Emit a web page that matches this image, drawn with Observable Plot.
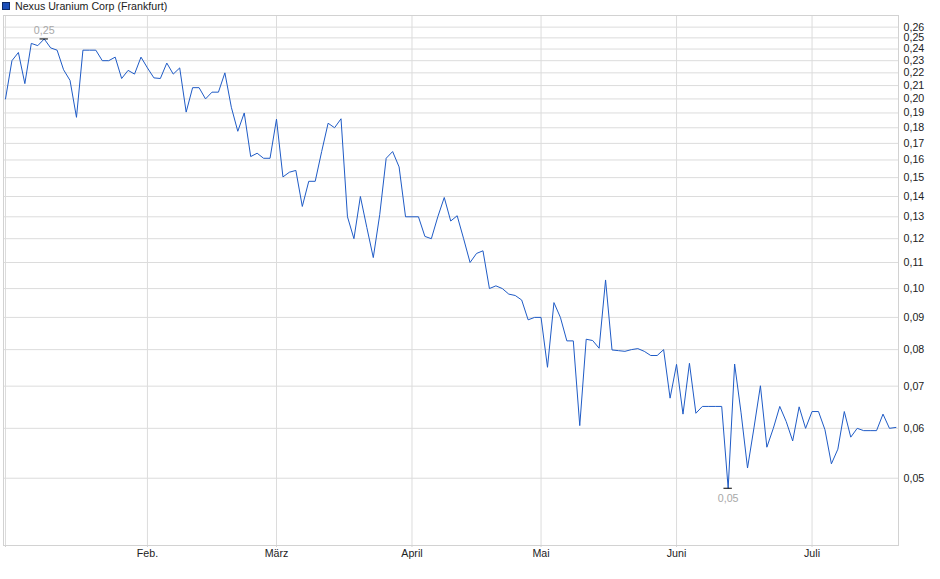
<!DOCTYPE html>
<html>
<head>
<meta charset="utf-8">
<script src="https://cdn.jsdelivr.net/npm/d3@7"></script>
<script src="https://cdn.jsdelivr.net/npm/@observablehq/plot@0.6"></script>
<style>
  body { margin: 0; background: #fff; font-family: "Liberation Sans", Arial, sans-serif; }
  #wrap { position: relative; width: 940px; height: 579px; overflow: hidden; }
  #legend { position: absolute; left: 2px; top: 0px; font-size: 10.67px; line-height: 12px; color: #222; display: flex; align-items: center; white-space: nowrap; }
  #legend .sw { display: inline-block; width: 6px; height: 6px; background: #1c4fb8; border: 1px solid #0d2a66; margin-right: 5px; }
</style>
</head>
<body>
<div id="wrap">
  <div id="chart"></div>
  <div id="legend"><span class="sw"></span>Nexus Uranium Corp (Frankfurt)</div>
</div>
<script>
// Daily closing prices (EUR), one per Frankfurt trading day, 2 Jan – 18 Jul 2025
const prices = [
  0.200, 0.230, 0.237, 0.2115, 0.245, 0.243, 0.249, 0.241, 0.239, 0.2225,
  0.214, 0.187, 0.239, 0.239, 0.239, 0.230, 0.230, 0.233, 0.2155, 0.222,
  0.219, 0.233, 0.224, 0.216, 0.2155, 0.228, 0.219, 0.224, 0.1906, 0.2084,
  0.2084, 0.200, 0.205, 0.205, 0.220, 0.194, 0.1777, 0.190, 0.162, 0.164,
  0.161, 0.161, 0.1857, 0.1504, 0.153, 0.154, 0.135, 0.148, 0.148, 0.165,
  0.183, 0.180, 0.186, 0.130, 0.120, 0.140, 0.125, 0.112, 0.131, 0.161,
  0.165, 0.156, 0.130, 0.130, 0.130, 0.121, 0.120, 0.130, 0.1395, 0.128,
  0.1305, 0.120, 0.110, 0.1137, 0.1148, 0.100, 0.101, 0.100, 0.098, 0.0975,
  0.0959, 0.0892, 0.090, 0.090, 0.075, 0.095, 0.090, 0.0826, 0.0826, 0.0606,
  0.0831, 0.0827, 0.0804, 0.1032, 0.0799, 0.0797, 0.0795, 0.080, 0.0803, 0.0795,
  0.0783, 0.0783, 0.080, 0.067, 0.0758, 0.0632, 0.0761, 0.0634, 0.065, 0.065,
  0.065, 0.065, 0.0482, 0.0759, 0.0635, 0.0519, 0.0601, 0.0701, 0.056, 0.060,
  0.065, 0.0615, 0.0573, 0.0649, 0.060, 0.0638, 0.0638, 0.0597, 0.0527, 0.0556,
  0.0638, 0.0581, 0.060, 0.0595, 0.0595, 0.0595, 0.0632, 0.060, 0.0602
];
// trading-day index of the first session of each month
const monthStarts = [0, 22, 42, 63, 83, 104, 125];
const monthLabels = ["", "Feb.", "März", "April", "Mai", "Juni", "Juli"];
// price axis ticks (cents)
const priceTickCents = d3.range(5, 27);

const yTicks = priceTickCents.map(c => c / 100);
const fmt = d => d.toFixed(2).replace(".", ",");
const data = prices.map((v, i) => ({i, v}));
const iMax = d3.maxIndex(prices), iMin = d3.minIndex(prices);
const hi = [{i: iMax, v: prices[iMax]}];
const lo = [{i: iMin, v: prices[iMin]}];

const chart = Plot.plot({
  width: 940,
  height: 579,
  marginTop: 15,
  marginBottom: 34,
  marginLeft: 3,
  marginRight: 42,
  style: {fontFamily: "'Liberation Sans', Arial, sans-serif", fontSize: "10.67px", color: "#222", background: "#fff"},
  x: {type: "linear", domain: [-0.31, 138.4]},
  y: {type: "log", domain: [0.0391, 0.2713]},
  marks: [
    Plot.gridY(yTicks, {stroke: "#dcdcdc", strokeOpacity: 1}),
    Plot.gridX(monthStarts, {stroke: "#dcdcdc", strokeOpacity: 1}),
    Plot.frame({stroke: "#d2d2d2"}),
    Plot.axisY(yTicks, {anchor: "right", tickFormat: fmt, tickSize: 0, tickPadding: 5, fill: "#222", label: null}),
    Plot.axisX(monthStarts, {anchor: "bottom", tickFormat: d => monthLabels[monthStarts.indexOf(d)], tickSize: 2, tickPadding: 2, stroke: "#d2d2d2", fill: "#222", label: null}),
    Plot.line(data, {x: "i", y: "v", stroke: "#1f5bc6", strokeWidth: 1}),
    Plot.ruleY(hi, {y: "v", x1: d => d.i - 0.65, x2: d => d.i + 0.65, stroke: "#000"}),
    Plot.ruleY(lo, {y: "v", x1: d => d.i - 0.65, x2: d => d.i + 0.65, stroke: "#000"}),
    Plot.text(hi, {x: "i", y: "v", text: d => fmt(d.v), dy: -8, fill: "#a8a8a8"}),
    Plot.text(lo, {x: "i", y: "v", text: d => fmt(d.v), dy: 10, fill: "#a8a8a8"})
  ]
});
document.getElementById("chart").appendChild(chart);
</script>
</body>
</html>
